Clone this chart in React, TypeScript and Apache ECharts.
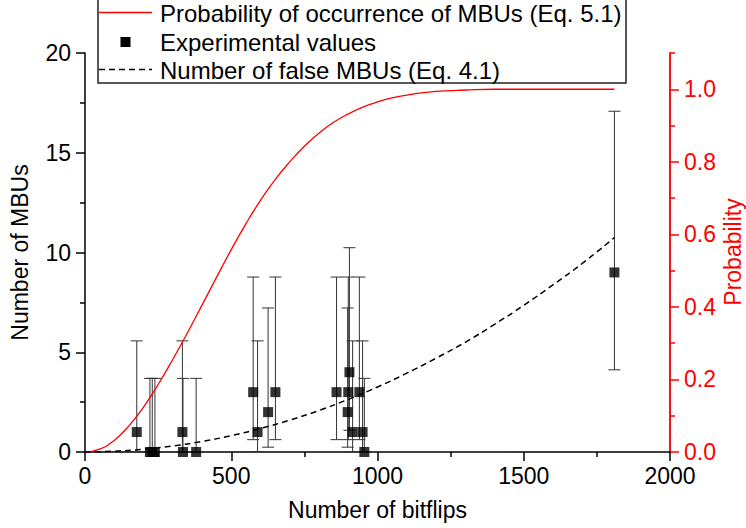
import React, { useEffect, useRef } from 'react';
import * as echarts from 'echarts';

// Experimental values (number of MBUs vs number of bitflips) with 95% error bars
const bitflips = [177, 222, 230, 239, 333, 335, 380, 575, 590, 626, 651, 860, 898, 900, 904, 915, 938, 949, 955, 1810];
const mbus = [1, 0, 0, 0, 1, 0, 0, 3, 1, 2, 3, 3, 2, 3, 4, 1, 3, 1, 0, 9];
const errLow = [0.025, 0, 0, 0, 0.025, 0, 0, 0.619, 0.025, 0.242, 0.619, 0.619, 0.242, 0.619, 1.09, 0.025, 0.619, 0.025, 0, 4.12];
const errHigh = [5.57, 3.69, 3.69, 3.69, 5.57, 3.69, 3.69, 8.77, 5.57, 7.22, 8.77, 8.77, 7.22, 8.77, 10.24, 5.57, 8.77, 5.57, 3.69, 17.08];

// Probability of occurrence of MBUs (Eq. 5.1), right axis
const probX = [0, 50, 100, 150, 200, 250, 300, 350, 400, 450, 500, 550, 600, 650, 700, 750, 800, 850, 900, 950, 1000, 1050, 1100, 1150, 1200, 1250, 1300, 1400, 1500, 1600, 1700, 1810];
const probY = [0, 0.008, 0.032, 0.072, 0.124, 0.186, 0.255, 0.328, 0.405, 0.482, 0.558, 0.629, 0.694, 0.751, 0.8, 0.843, 0.879, 0.909, 0.932, 0.951, 0.965, 0.976, 0.984, 0.99, 0.994, 0.996, 0.998, 1.0, 1.0, 1.0, 1.0, 1.0];

// Number of false MBUs (Eq. 4.1), left axis
const falseX = [0, 100, 200, 300, 400, 500, 600, 700, 800, 900, 1000, 1100, 1200, 1300, 1400, 1500, 1600, 1700, 1810];
const falseY = [0, 0.04, 0.14, 0.3, 0.53, 0.82, 1.18, 1.6, 2.08, 2.64, 3.26, 3.95, 4.7, 5.5, 6.4, 7.35, 8.38, 9.45, 10.75];

const xTicks = [0, 2000, 500];
const leftTicks = [0, 20, 5];
const rightMajor = [0, 0.2, 0.4, 0.6, 0.8, 1.0];
const rightMinor = [0.1, 0.3, 0.5, 0.7, 0.9, 1.1];

const legendLabels = [
  'Probability of occurrence of MBUs (Eq. 5.1)',
  'Experimental values',
  'Number of false MBUs (Eq. 4.1)',
];
const rightAxisTitle = 'Probability';

const FONT = '"Liberation Sans", Arial, sans-serif';
const AXF = 23;
const LGF = 24;

export default function App() {
  const ref = useRef<HTMLDivElement>(null);
  useEffect(() => {
    if (!ref.current) return;
    const chart = echarts.init(ref.current, null, { renderer: 'svg' });
    const black = '#000';
    const red = '#ff0000';
    const option: any = {
      animation: false,
      textStyle: { fontFamily: FONT },
      grid: { left: 85, right: 76, top: 53, bottom: 76, containLabel: false, outerBoundsMode: 'none' },
      xAxis: {
        type: 'value',
        min: xTicks[0],
        max: xTicks[1],
        interval: xTicks[2],
        axisLine: { show: true, lineStyle: { color: black, width: 1.5 } },
        axisTick: { show: true, inside: false, length: 9, lineStyle: { color: black, width: 1.5 } },
        minorTick: { show: true, splitNumber: 2, length: 5, lineStyle: { color: black, width: 1.5 } },
        splitLine: { show: false },
        axisLabel: { color: black, fontSize: AXF, fontFamily: FONT, margin: 12, formatter: (v: number) => String(v) },
        name: 'Number of bitflips',
        nameLocation: 'middle',
        nameGap: 46,
        nameTextStyle: { color: black, fontSize: AXF, fontFamily: FONT },
      },
      yAxis: [
        {
          type: 'value',
          position: 'left',
          min: leftTicks[0],
          max: leftTicks[1],
          interval: leftTicks[2],
          axisLine: { show: true, lineStyle: { color: black, width: 1.5 } },
          axisTick: { show: true, inside: false, length: 9, lineStyle: { color: black, width: 1.5 } },
          minorTick: { show: true, splitNumber: 2, length: 5, lineStyle: { color: black, width: 1.5 } },
          splitLine: { show: false },
          axisLabel: { color: black, fontSize: AXF, fontFamily: FONT, margin: 14, formatter: (v: number) => String(v) },
          name: 'Number of MBUs',
          nameLocation: 'middle',
          nameGap: 54,
          nameTextStyle: { color: black, fontSize: AXF, fontFamily: FONT },
        },
        {
          type: 'value',
          position: 'right',
          min: 0,
          max: 1.1,
          axisLine: { show: true, lineStyle: { color: red, width: 1.5 } },
          axisTick: { show: true, inside: false, length: 9, customValues: rightMajor, lineStyle: { color: red, width: 1.5 } },
          splitLine: { show: false },
          axisLabel: {
            color: red, fontSize: AXF, fontFamily: FONT, margin: 14,
            customValues: rightMajor,
            formatter: (v: number) => v.toFixed(1),
          },
        },
        {
          type: 'value',
          position: 'right',
          min: 0,
          max: 1.1,
          axisLine: { show: true, lineStyle: { color: red, width: 1.5 } },
          axisTick: { show: true, inside: false, length: 5, customValues: rightMinor, lineStyle: { color: red, width: 1.5 } },
          splitLine: { show: false },
          axisLabel: { show: false },
        },
      ],
      series: [
        {
          type: 'custom',
          name: 'errors',
          xAxisIndex: 0,
          yAxisIndex: 0,
          encode: { x: 0, y: [1, 2] },
          data: bitflips.map((b, i) => [b, errLow[i], errHigh[i]]),
          renderItem: (params: any, api: any) => {
            const x = api.value(0);
            const lo = api.coord([x, api.value(1)]);
            const hi = api.coord([x, api.value(2)]);
            const w = 6;
            const style = { stroke: '#333', lineWidth: 1 };
            return {
              type: 'group',
              children: [
                { type: 'line', shape: { x1: lo[0], y1: lo[1], x2: hi[0], y2: hi[1] }, style },
                { type: 'line', shape: { x1: hi[0] - w, y1: hi[1], x2: hi[0] + w, y2: hi[1] }, style },
                { type: 'line', shape: { x1: lo[0] - w, y1: lo[1], x2: lo[0] + w, y2: lo[1] }, style },
              ],
            };
          },
          z: 2,
        },
        {
          type: 'scatter',
          name: 'Experimental values',
          yAxisIndex: 0,
          symbol: 'rect',
          symbolSize: 10,
          itemStyle: { color: black },
          data: bitflips.map((b, i) => [b, mbus[i]]),
          z: 3,
        },
        {
          type: 'line',
          name: 'Probability of occurrence of MBUs (Eq. 5.1)',
          yAxisIndex: 1,
          smooth: true,
          showSymbol: false,
          lineStyle: { color: red, width: 1.3 },
          data: probX.map((x, i) => [x, probY[i]]),
          z: 4,
        },
        {
          type: 'line',
          name: 'Number of false MBUs (Eq. 4.1)',
          yAxisIndex: 0,
          smooth: true,
          showSymbol: false,
          lineStyle: { color: black, width: 1.5, type: [6, 4] },
          data: falseX.map((x, i) => [x, falseY[i]]),
          z: 4,
        },
      ],
      graphic: [
        {
          type: 'text',
          x: 733,
          y: 252,
          rotation: Math.PI / 2,
          style: {
            text: rightAxisTitle,
            fill: red,
            fontSize: AXF,
            fontFamily: FONT,
            align: 'center',
            verticalAlign: 'middle',
          },
          z: 5,
        },
        {
          type: 'rect',
          shape: { x: 98, y: -4, width: 528, height: 87 },
          style: { fill: '#fff', stroke: '#222', lineWidth: 1.5 },
          z: 10,
        },
        {
          type: 'line',
          shape: { x1: 99, y1: 12.5, x2: 152, y2: 12.5 },
          style: { stroke: red, lineWidth: 1.3 },
          z: 11,
        },
        {
          type: 'rect',
          shape: { x: 120.5, y: 37, width: 10, height: 10 },
          style: { fill: black },
          z: 11,
        },
        {
          type: 'line',
          shape: { x1: 99, y1: 69.5, x2: 152, y2: 69.5 },
          style: { stroke: black, lineWidth: 1.5, lineDash: [6, 4] },
          z: 11,
        },
        ...legendLabels.map((t, i) => ({
          type: 'text',
          x: 160,
          y: [13, 42, 70][i],
          style: {
            text: t,
            fill: black,
            fontSize: LGF,
            fontFamily: FONT,
            verticalAlign: 'middle',
            align: 'left',
          },
          z: 11,
        })),
      ],
    };
    chart.setOption(option);
    return () => chart.dispose();
  }, []);
  return (
    <div
      ref={ref}
      style={{ position: 'fixed', left: 0, top: 0, width: 746, height: 528, background: '#fff' }}
    />
  );
}
